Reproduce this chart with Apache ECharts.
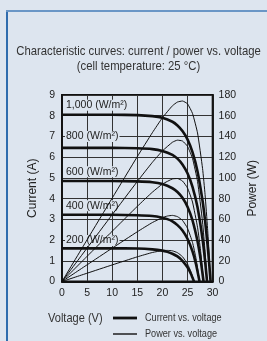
<!DOCTYPE html>
<html>
<head>
<meta charset="utf-8">
<script src="https://cdn.jsdelivr.net/npm/echarts@6/dist/echarts.min.js"></script>
<style>
  html, body { margin: 0; padding: 0; background: #dde5ef; }
  #chart { width: 267px; height: 341px; }
</style>
</head>
<body>
<div id="chart"></div>
<script>
// ticks
var voltageTicks = [0, 5, 10, 15, 20, 25, 30];
var irradianceNames = ['1,000 (W/m²)', '800 (W/m²)', '600 (W/m²)', '400 (W/m²)', '200 (W/m²)'];

// 1000 W/m2
var voltage1000 = [0, 5, 10, 15, 18, 20, 22, 23, 24, 25, 26, 27, 28, 28.5, 29, 29.3, 29.6];
var current1000 = [8.05, 8.05, 8.05, 8.03, 7.98, 7.90, 7.71, 7.53, 7.26, 6.86, 6.24, 5.31, 3.90, 2.95, 1.77, 0.94, 0];
var power1000 = [0, 40.3, 80.5, 120.5, 143.6, 158.0, 169.6, 173.2, 174.2, 171.5, 162.2, 143.4, 109.2, 84.1, 51.3, 27.5, 0];
// 800 W/m2
var voltage800 = [0, 5, 10, 15, 18, 20, 22, 23, 24, 25, 26, 27, 28, 28.5, 28.9];
var current800 = [6.45, 6.45, 6.45, 6.43, 6.39, 6.30, 6.11, 5.93, 5.65, 5.22, 4.57, 3.58, 2.05, 1.01, 0];
var power800 = [0, 32.3, 64.5, 96.5, 115.0, 126.0, 134.4, 136.4, 135.6, 130.5, 118.8, 96.7, 57.4, 28.8, 0];
// 600 W/m2
var voltage600 = [0, 5, 10, 15, 18, 20, 22, 23, 24, 25, 26, 27, 27.6, 28.2];
var current600 = [4.85, 4.85, 4.85, 4.83, 4.79, 4.70, 4.50, 4.32, 4.04, 3.61, 2.95, 1.94, 1.09, 0];
var power600 = [0, 24.3, 48.5, 72.5, 86.2, 94.0, 99.0, 99.4, 97.0, 90.3, 76.7, 52.4, 30.1, 0];
// 400 W/m2
var voltage400 = [0, 5, 10, 15, 18, 20, 21, 22, 23, 24, 25, 26, 26.7, 27.4];
var current400 = [3.22, 3.22, 3.22, 3.20, 3.16, 3.08, 3.01, 2.90, 2.72, 2.46, 2.06, 1.45, 0.83, 0];
var power400 = [0, 16.1, 32.2, 48.0, 56.9, 61.6, 63.2, 63.8, 62.6, 59.0, 51.5, 37.7, 22.2, 0];
// 200 W/m2
var voltage200 = [0, 5, 10, 15, 18, 20, 21, 22, 23, 24, 25, 25.7, 26.3];
var current200 = [1.60, 1.60, 1.60, 1.59, 1.55, 1.49, 1.43, 1.34, 1.21, 1.00, 0.68, 0.36, 0];
var power200 = [0, 8.0, 16.0, 23.8, 28.0, 29.8, 30.0, 29.6, 27.8, 24.0, 17.0, 9.3, 0];

var voltages = [voltage1000, voltage800, voltage600, voltage400, voltage200];
var currents = [current1000, current800, current600, current400, current200];
var powers = [power1000, power800, power600, power400, power200];

function pairs(xs, ys) {
  return xs.map(function (x, i) { return [x, ys[i]]; });
}

var sans = '"Liberation Sans", Arial, sans-serif';
var labelY = [8.5, 7.0, 5.3, 3.65, 1.98]; // where the irradiance tags sit

var series = [];
for (var i = 0; i < 5; i++) {
  series.push({
    name: 'Current vs. voltage',
    type: 'line',
    yAxisIndex: 0,
    smooth: 0.15,
    symbol: 'none',
    z: 4,
    lineStyle: { color: '#111', width: 2.6 },
    data: pairs(voltages[i], currents[i]),
    markPoint: {
      z: 1,
      symbol: 'circle',
      symbolSize: 1,
      silent: true,
      itemStyle: { color: 'rgba(0,0,0,0)' },
      label: {
        show: true,
        position: 'inside',
        align: 'left',
        formatter: irradianceNames[i],
        color: '#222',
        fontSize: 10.5,
        fontFamily: sans,
        backgroundColor: '#dde5ef',
        padding: [0, 1]
      },
      data: [{ coord: [0.6, labelY[i]] }]
    }
  });
}
for (var j = 0; j < 5; j++) {
  series.push({
    name: 'Power vs. voltage',
    type: 'line',
    yAxisIndex: 1,
    smooth: 0.15,
    symbol: 'none',
    z: 3,
    lineStyle: { color: '#111', width: 1 },
    data: pairs(voltages[j], powers[j])
  });
}

var chart = echarts.init(document.getElementById('chart'));
chart.setOption({
  backgroundColor: '#dde5ef',
  animation: false,
  grid: {
    left: 62, top: 95, width: 159, height: 186.5,
    show: true, borderColor: '#111', borderWidth: 1.8, backgroundColor: 'transparent'
  },
  xAxis: {
    type: 'value', min: 0, max: 30, interval: 5,
    axisLine: { show: true, lineStyle: { color: '#111', width: 1.8 } },
    axisTick: { show: false },
    axisLabel: { color: '#222', fontSize: 10.5, margin: 6, fontFamily: sans },
    splitLine: { show: true, lineStyle: { color: '#333', width: 1 } }
  },
  yAxis: [
    {
      type: 'value', min: 0, max: 9, interval: 1,
      name: 'Current (A)', nameLocation: 'middle', nameGap: 22,
      nameTextStyle: { color: '#222', fontSize: 12, fontFamily: sans },
      axisLine: { show: true, lineStyle: { color: '#111', width: 1.8 } },
      axisTick: { show: false },
      axisLabel: { color: '#222', fontSize: 10.5, margin: 7, fontFamily: sans },
      splitLine: { show: true, lineStyle: { color: '#333', width: 1 } }
    },
    {
      type: 'value', min: 0, max: 180, interval: 20, position: 'right',
      name: 'Power (W)', nameLocation: 'middle', nameGap: 23,
      nameTextStyle: { color: '#222', fontSize: 12, fontFamily: sans },
      axisLine: { show: true, lineStyle: { color: '#111', width: 1.8 } },
      axisTick: { show: false },
      axisLabel: { color: '#222', fontSize: 10.5, margin: 6, fontFamily: sans },
      splitLine: { show: false }
    }
  ],
  graphic: [
    { type: 'rect', left: 6, top: 10, shape: { width: 2, height: 331 }, style: { fill: '#2f6cae' } },
    { type: 'rect', left: 6, top: 10, shape: { width: 261, height: 2 }, style: { fill: '#6a96c6' } },
    {
      type: 'text', x: 138.5, y: 44, scaleX: 0.87,
      style: {
        text: 'Characteristic curves: current / power vs. voltage\n(cell temperature: 25 °C)',
        textAlign: 'center', font: '13px ' + sans, fill: '#333', lineHeight: 15
      }
    },
    {
      type: 'text', x: 48, y: 318, scaleX: 0.85,
      style: { text: 'Voltage (V)', font: '13px ' + sans, fill: '#333', textVerticalAlign: 'middle' }
    },
    // legend
    { type: 'line', shape: { x1: 113, y1: 318, x2: 137, y2: 318 }, style: { stroke: '#111', lineWidth: 2.8 } },
    { type: 'line', shape: { x1: 113, y1: 334, x2: 137, y2: 334 }, style: { stroke: '#111', lineWidth: 1.4 } },
    {
      type: 'text', x: 145, y: 318, scaleX: 0.83,
      style: { text: 'Current vs. voltage', font: '11px ' + sans, fill: '#333', textVerticalAlign: 'middle' }
    },
    {
      type: 'text', x: 145, y: 334, scaleX: 0.83,
      style: { text: 'Power vs. voltage', font: '11px ' + sans, fill: '#333', textVerticalAlign: 'middle' }
    }
  ],
  series: series
});
</script>
</body>
</html>
